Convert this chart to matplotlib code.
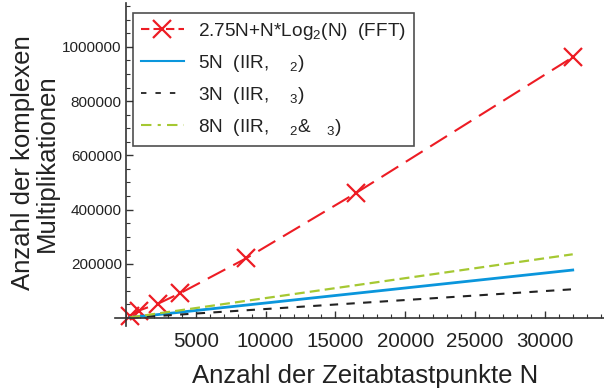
import numpy as np
import matplotlib
matplotlib.use("Agg")
import matplotlib.pyplot as plt
from matplotlib.lines import Line2D
from matplotlib.ticker import FixedLocator, MultipleLocator, StrMethodFormatter

# values
n_points = [300, 900, 2300, 3900, 8600, 16500, 32000]
fft_mult = [8000, 27000, 53000, 92000, 220000, 462000, 962000]
iir_5n = [1700, 5000, 12700, 21600, 47600, 91300, 177000]
iir_3n = [1000, 3000, 7600, 12900, 28500, 54700, 106000]
iir_8n = [2200, 6600, 16900, 28600, 63200, 121200, 235000]

labels = [
    "2.75N+N*Log$_2$(N)  (FFT)",
    "5N  (IIR,    $_2$)",
    "3N  (IIR,    $_3$)",
    "8N  (IIR,    $_2$&   $_3$)",
]
x_ticks = [5000, 10000, 15000, 20000, 25000, 30000]
y_ticks = [200000, 400000, 600000, 800000, 1000000]

plt.rcParams["font.family"] = ["Liberation Sans", "DejaVu Sans"]
plt.rcParams["mathtext.fontset"] = "custom"
plt.rcParams["mathtext.rm"] = "Liberation Sans"
plt.rcParams["mathtext.it"] = "Liberation Sans"

red = "#ED1C24"
blue = "#0A96DC"
black = "#222222"
green = "#A5C832"
axis_col = "#333333"
text_col = "#222222"

W, H = 604, 392
fig = plt.figure(figsize=(W / 100, H / 100), dpi=100)
ax = fig.add_axes([115 / W, (H - 326) / H, 489 / W, 323 / H])

ax.plot(n_points, fft_mult, color=red, lw=1.5, dashes=(9.5, 4.3),
        marker="x", markersize=13, markeredgewidth=1.6)
ax.plot(n_points, iir_5n, color=blue, lw=2.0)
ax.plot(n_points, iir_3n, color=black, lw=1.5, dashes=(4.0, 4.0))
ax.plot(n_points, iir_8n, color=green, lw=1.6, dashes=(4.5, 2.3))

ax.set_xlim(-790, 34240)
ax.set_ylim(-29500, 1162000)

for s in ["top", "right"]:
    ax.spines[s].set_visible(False)
for s in ["left", "bottom"]:
    ax.spines[s].set_position(("data", 0))
    ax.spines[s].set_color(axis_col)
    ax.spines[s].set_linewidth(1.2)

ax.xaxis.set_major_locator(FixedLocator(x_ticks))
ax.yaxis.set_major_locator(FixedLocator(y_ticks))
ax.xaxis.set_minor_locator(MultipleLocator(1000))
ax.yaxis.set_minor_locator(MultipleLocator(50000))
ax.yaxis.set_major_formatter(StrMethodFormatter("{x:.0f}"))
ax.tick_params(which="major", direction="in", length=5, width=1, color=axis_col)
ax.tick_params(which="minor", direction="in", length=3, width=0.8, color=axis_col)
ax.tick_params(axis="x", pad=10, labelsize=14.8, labelcolor=text_col)
ax.tick_params(axis="y", pad=3, labelsize=11, labelcolor=text_col)

fig.text(365 / W, 1 - 376 / H, "Anzahl der Zeitabtastpunkte N",
         ha="center", va="center", fontsize=18.5, color=text_col)
fig.text(35 / W, 1 - 163 / H, "Anzahl der komplexen\nMultiplikationen",
         ha="center", va="center", rotation=90, fontsize=18.5,
         color=text_col, linespacing=0.95, multialignment="center")

handles = [
    Line2D([], [], color=red, lw=1.5, dashes=(4, 2), marker="x",
           markersize=13, markeredgewidth=1.6),
    Line2D([], [], color=blue, lw=1.5),
    Line2D([], [], color=black, lw=1.3, dashes=(3, 5)),
    Line2D([], [], color=green, lw=1.5, dashes=(5, 3, 1.5, 3)),
]
leg = ax.legend(handles, labels, loc="upper left",
                bbox_to_anchor=(133 / W, 1 - 13 / H), bbox_transform=fig.transFigure,
                prop={"size": 13.7}, frameon=True, fancybox=False,
                edgecolor=text_col, handlelength=2.26, handletextpad=0.74,
                labelspacing=0.58, borderpad=0.42, borderaxespad=0)
leg.get_frame().set_linewidth(1.2)
for t in leg.get_texts():
    t.set_color(text_col)

fig.savefig("out.png", dpi=100)
